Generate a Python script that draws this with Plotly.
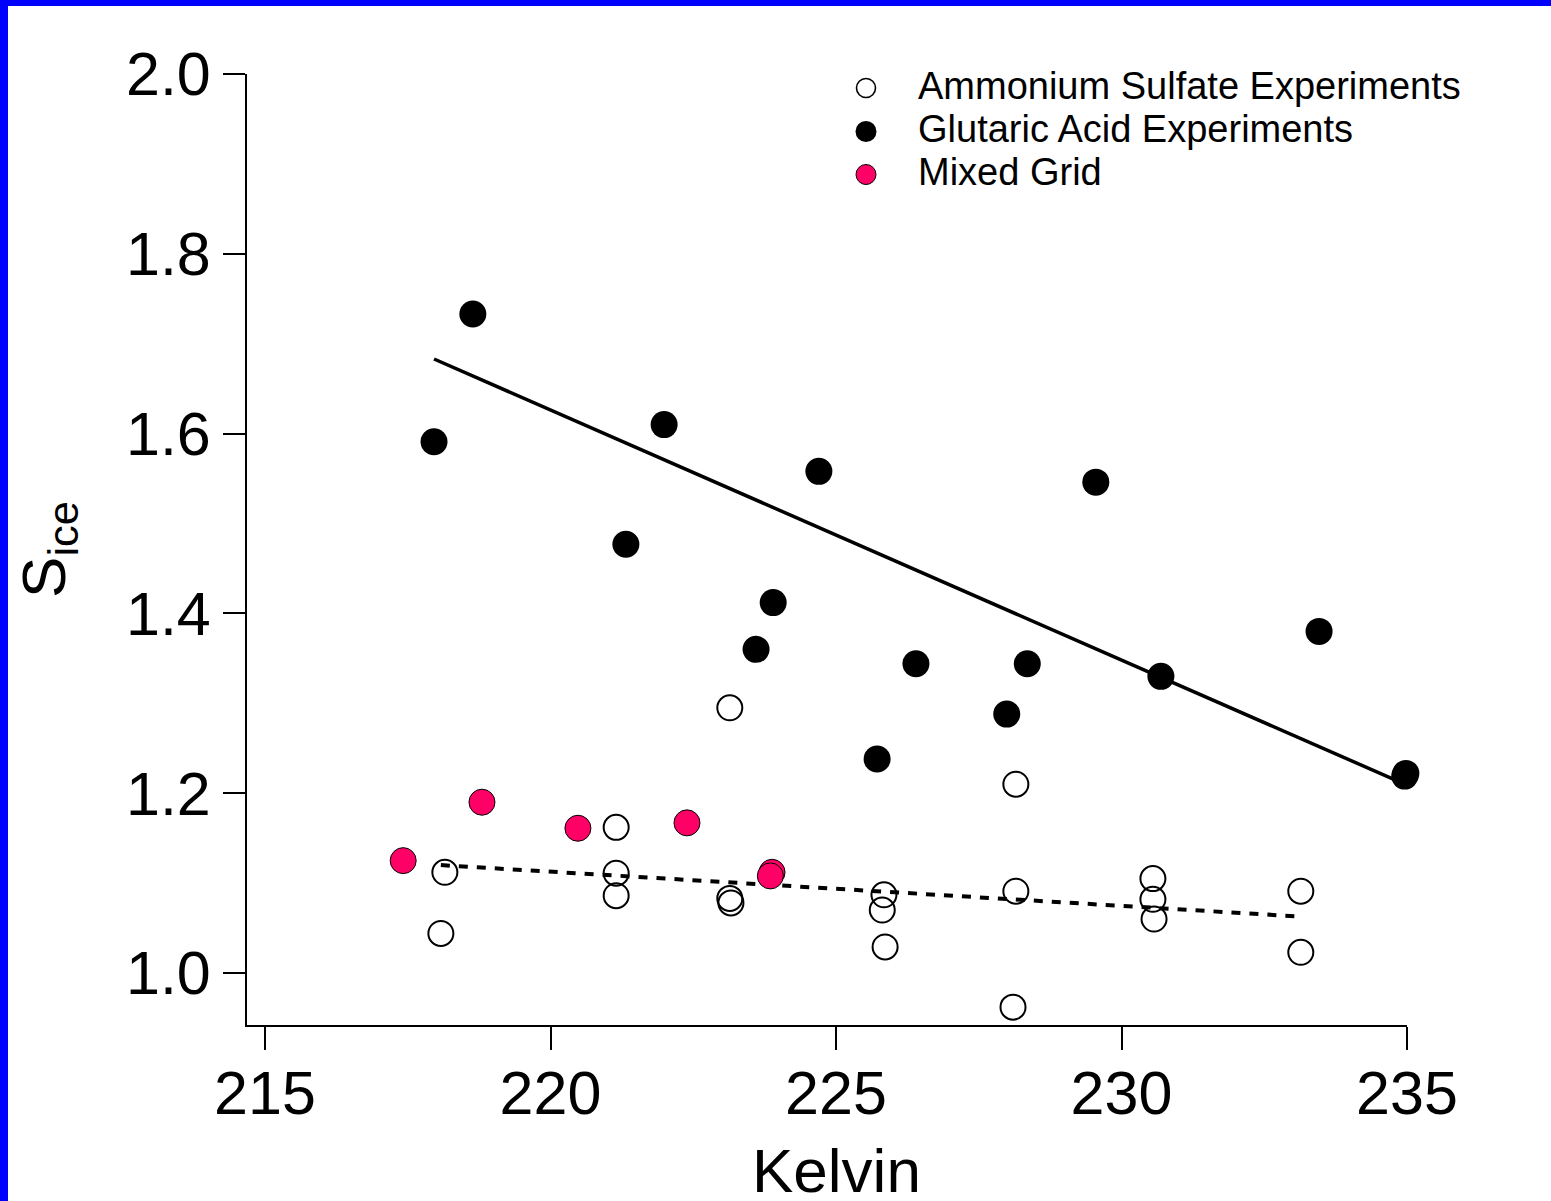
import plotly.graph_objects as go

# ---------------- data ----------------
as_T = [218.15, 218.08, 223.14, 221.15, 221.15, 221.15, 223.14, 223.16,
        225.84, 225.81, 225.86, 228.15, 228.10, 228.15, 230.55, 230.55,
        230.57, 233.14, 233.14]
as_S = [1.112, 1.044, 1.295, 1.162, 1.111, 1.086, 1.083, 1.078,
        1.087, 1.070, 1.029, 1.091, 0.962, 1.210, 1.105, 1.082,
        1.060, 1.091, 1.023]

ga_T = [217.96, 218.64, 221.99, 221.32, 224.70, 223.90, 223.60, 225.72,
        226.40, 227.99, 228.35, 229.55, 230.69, 233.46, 234.98, 234.96]
ga_S = [1.591, 1.733, 1.610, 1.477, 1.558, 1.412, 1.360, 1.238,
        1.344, 1.288, 1.344, 1.546, 1.330, 1.380, 1.222, 1.219]

mg_T = [217.42, 218.80, 220.48, 222.39, 223.88, 223.85]
mg_S = [1.125, 1.190, 1.161, 1.167, 1.112, 1.108]

ga_fit_T = [217.96, 235.0]
ga_fit_S = [1.683, 1.209]
as_fit_T = [218.08, 233.07]
as_fit_S = [1.120, 1.063]

x_ticks = [215, 220, 225, 230, 235]
y_ticks = [1.0, 1.2, 1.4, 1.6, 1.8, 2.0]
y_ticklabels = ["1.0", "1.2", "1.4", "1.6", "1.8", "2.0"]

legend_labels = ["Ammonium Sulfate Experiments", "Glutaric Acid Experiments", "Mixed Grid"]
x_title = "Kelvin"
y_title = "S<sub>ice</sub>"

# ---------------- layout geometry ----------------
W, H = 1551, 1201
ML, MR, MT, MB = 247, 144, 74, 176
PW = W - ML - MR
PH = H - MT - MB
FONT = "Liberation Sans, Arial, Helvetica, sans-serif"
PINK = "#FF0066"


def px2paper_x(px):
    return (px - ML) / PW


def px2paper_y(py):
    return (H - MB - py) / PH


fig = go.Figure()

fig.add_trace(go.Scatter(
    x=as_T, y=as_S, mode="markers", name=legend_labels[0],
    marker=dict(symbol="circle-open", size=25, color="black", line=dict(width=2)),
    cliponaxis=False, showlegend=False))

fig.add_trace(go.Scatter(
    x=as_fit_T, y=as_fit_S, mode="lines", showlegend=False,
    line=dict(color="black", width=4, dash="9px,9px"), cliponaxis=False))

fig.add_trace(go.Scatter(
    x=ga_fit_T, y=ga_fit_S, mode="lines", showlegend=False,
    line=dict(color="black", width=3.5), cliponaxis=False))

fig.add_trace(go.Scatter(
    x=ga_T, y=ga_S, mode="markers", name=legend_labels[1],
    marker=dict(symbol="circle", size=27, color="black", line=dict(width=0)),
    cliponaxis=False, showlegend=False))

fig.add_trace(go.Scatter(
    x=mg_T, y=mg_S, mode="markers", name=legend_labels[2],
    marker=dict(symbol="circle", size=26, color=PINK, line=dict(width=1, color="black")),
    cliponaxis=False, showlegend=False))

# ---------------- manual legend ----------------
leg_rows = [88, 131.5, 174.5]
leg_mx = 866
leg_tx = 916
shapes = []
annotations = []
leg_styles = [
    dict(fill="rgba(0,0,0,0)", line="black", lw=1.6, r=9.5),
    dict(fill="black", line="black", lw=0, r=10.5),
    dict(fill=PINK, line="black", lw=1, r=10),
]
for lab, ry, st in zip(legend_labels, leg_rows, leg_styles):
    shapes.append(dict(
        type="circle", xref="paper", yref="paper",
        xsizemode="pixel", ysizemode="pixel",
        xanchor=px2paper_x(leg_mx), yanchor=px2paper_y(ry),
        x0=-st["r"], x1=st["r"], y0=-st["r"], y1=st["r"],
        fillcolor=st["fill"], line=dict(color=st["line"], width=st["lw"]),
        layer="above"))
    annotations.append(dict(
        text=lab, xref="paper", yref="paper",
        x=px2paper_x(leg_tx), y=px2paper_y(ry - 2.5),
        xanchor="left", yanchor="middle", showarrow=False,
        font=dict(family=FONT, size=38, color="black")))

# x-axis title placed as annotation (centered where the original sits)
annotations.append(dict(
    text=x_title, xref="paper", yref="paper",
    x=px2paper_x(836), y=px2paper_y(1170),
    xanchor="center", yanchor="middle", showarrow=False,
    font=dict(family=FONT, size=62, color="black")))

# blue frame strips (left and top) of the original image
shapes.append(dict(type="rect", xref="paper", yref="paper", layer="above",
                   x0=px2paper_x(0), x1=px2paper_x(8), y0=px2paper_y(H), y1=px2paper_y(0),
                   fillcolor="#0000FF", line=dict(width=0)))
shapes.append(dict(type="rect", xref="paper", yref="paper", layer="above",
                   x0=px2paper_x(0), x1=px2paper_x(W), y0=px2paper_y(6), y1=px2paper_y(0),
                   fillcolor="#0000FF", line=dict(width=0)))

x_lo = 215 - 18 / 57.1
y_lo = 1.0 - 52 / 899.0

fig.update_layout(
    width=W, height=H,
    margin=dict(l=ML, r=MR, t=MT, b=MB, pad=0),
    paper_bgcolor="white", plot_bgcolor="white",
    showlegend=False,
    font=dict(family=FONT, color="black"),
    shapes=shapes, annotations=annotations,
    xaxis=dict(
        range=[x_lo, 235], tickmode="array", tickvals=x_ticks,
        ticktext=[str(t) for t in x_ticks],
        showgrid=False, zeroline=False, showline=True, linecolor="black", linewidth=2,
        ticks="outside", ticklen=23, tickwidth=2, tickcolor="black",
        tickfont=dict(family=FONT, size=61, color="black"),
        ticklabelstandoff=-9,
        automargin=False, fixedrange=True),
    yaxis=dict(
        range=[y_lo, 2.0], tickmode="array", tickvals=y_ticks, ticktext=y_ticklabels,
        showgrid=False, zeroline=False, showline=True, linecolor="black", linewidth=2,
        ticks="outside", ticklen=22, tickwidth=2, tickcolor="black",
        tickfont=dict(family=FONT, size=61, color="black"),
        ticklabelstandoff=0,
        title=dict(text=y_title, font=dict(family=FONT, size=62, color="black"), standoff=40),
        automargin=False, fixedrange=True),
)

fig.write_html(
    "out.html",
    config={"displayModeBar": False},
    post_script="document.body.style.margin='0';document.body.style.overflow='hidden';",
)
